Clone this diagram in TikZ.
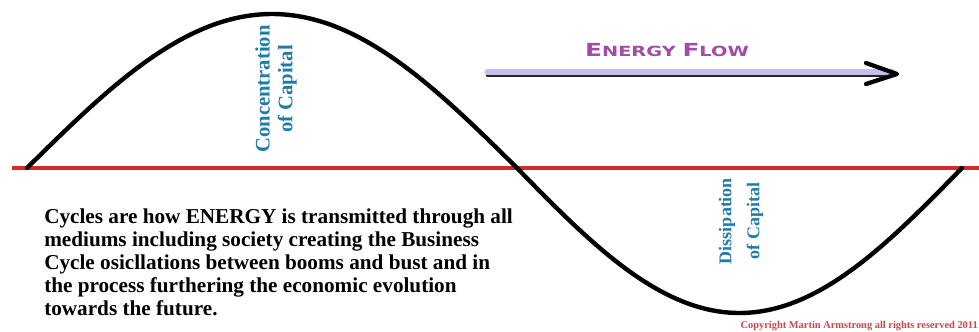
\documentclass[tikz,border=0pt]{standalone}
\usepackage{fontspec}
\setmainfont{Liberation Serif}
\newfontfamily\flowfont{DejaVu Sans}
\definecolor{redline}{RGB}{215,40,45}
\definecolor{captext}{RGB}{30,125,165}
\definecolor{flowtext}{RGB}{165,75,165}
\definecolor{arrowfill}{RGB}{200,190,235}
\definecolor{copyred}{RGB}{200,70,80}
\tikzset{
  wave/.style={black, line width=3.3pt, line cap=round},
  axisline/.style={redline, line width=3pt},
  captxt/.style={text=captext, font=\bfseries, rotate=90, align=center, inner sep=0pt},
  body/.style={font=\bfseries\fontsize{15.9}{17.25}\selectfont, align=left, inner sep=0pt, anchor=north west},
}
\begin{document}
\begin{tikzpicture}[x=0.75pt,y=-0.75pt]
\useasboundingbox (0,0) rectangle (979,332);
\fill[white] (0,0) rectangle (979,332);
% axis
\coordinate (axL) at (12,168);
\coordinate (axR) at (979,168);
\draw[axisline] (axL) -- (axR);
% wave
\draw[wave] plot[domain=27:517, samples=140] (\x, {168-154*sin(0.367347*(\x-27))})
  -- plot[domain=517:962, samples=140] (\x, {168+145*sin(0.404494*(\x-517))});
% energy flow arrow
\coordinate (fs) at (487,72);
\coordinate (fe) at (892,72);
\coordinate (fsb) at (487,75.5);
\coordinate (feb) at (892,75.5);
\draw[black!85, line width=2.2pt, line cap=round] (fsb) -- (feb);
\draw[arrowfill, line width=4pt, line cap=round] (fs) -- (fe);
\coordinate (h1) at (866,63);
\coordinate (ht) at (897,74);
\coordinate (h2) at (866,84);
\draw[black, line width=3.2pt, line cap=round, line join=round] (h1) -- (ht) -- (h2);
\node[text=flowtext, inner sep=0pt] (flow) at (667,50)
  {\scalebox{1.38}[1]{\flowfont\bfseries\fontsize{13.5}{14}\selectfont E\fontsize{10.5}{12}\selectfont NERGY \fontsize{13.5}{14}\selectfont F\fontsize{10.5}{12}\selectfont LOW}};
% labels
\node[captxt, font=\bfseries\fontsize{15.5}{17}\selectfont] (conc) at (276,89) {Concentration\\of Capital};
\node[captxt, font=\bfseries\fontsize{13.5}{21}\selectfont] (diss) at (741,221) {Dissipation\\of Capital};
% paragraph
\node[body] (para) at (44,209) {Cycles are how ENERGY is transmitted through all\\
mediums including society creating the Business\\
Cycle osicllations between booms and bust and in\\
the process furthering the economic evolution\\
towards the future.};
\node[anchor=base east, text=copyred, inner sep=0pt, font=\bfseries\fontsize{7.8}{8}\selectfont] (copy) at (978,328) {Copyright Martin Armstrong all rights reserved 2011};
\end{tikzpicture}
\end{document}
